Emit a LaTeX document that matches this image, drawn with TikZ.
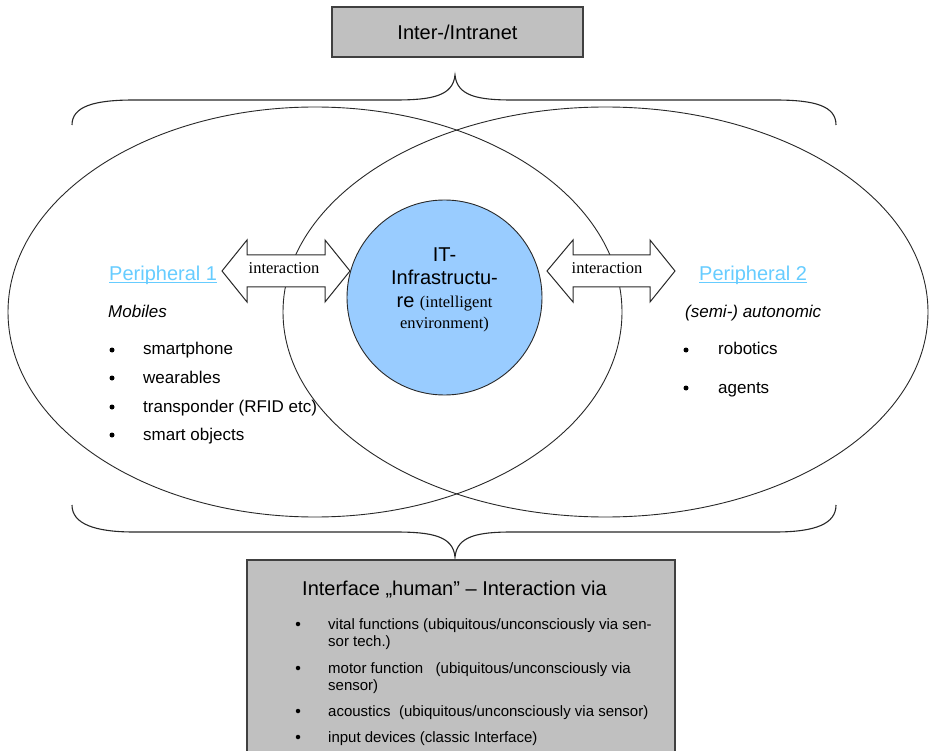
\documentclass[tikz,border=0pt]{standalone}
\usepackage{fontspec}
\setmainfont{Liberation Sans}
\newfontfamily\serifface{Liberation Serif}
\definecolor{boxgray}{RGB}{192,192,192}
\definecolor{boxline}{RGB}{64,64,64}
\definecolor{circblue}{RGB}{153,204,255}
\definecolor{periblue}{RGB}{102,204,255}
\definecolor{linegray}{RGB}{40,40,40}
\tikzset{
  txt/.style={inner sep=0pt, anchor=base west},
  ctxt/.style={inner sep=0pt, anchor=base},
  graybox/.style={draw=boxline, line width=1.3pt, fill=boxgray},
  ovalline/.style={draw=linegray, line width=0.9pt},
  braceline/.style={draw=linegray, line width=1.1pt},
  blockarrow/.style={draw=linegray, line width=1pt, fill=white},
  peri/.style={txt, text=periblue, font=\fontsize{20}{24}\selectfont},
  listfont/.style={txt, font=\fontsize{17}{20}\selectfont},
  boxfont/.style={txt, font=\fontsize{15}{18}\selectfont},
  dot/.style={circle, fill=black, inner sep=0pt, minimum size=5pt},
  smalldot/.style={circle, fill=black, inner sep=0pt, minimum size=4.5pt},
}
\begin{document}
\begin{tikzpicture}[x=1pt,y=-1pt]
\useasboundingbox (0,0) rectangle (929,751);
\clip (0,0) rectangle (929,751);

% ellipses
\draw[ovalline] (315,312) ellipse [x radius=307, y radius=205];
\draw[ovalline] (605.5,312) ellipse [x radius=322.5, y radius=205];

% central circle
\node[circle, draw=linegray, line width=0.9pt, fill=circblue, minimum size=195pt, inner sep=0pt] (it) at (444.5,297.5) {};
\node[ctxt, font=\fontsize{20}{24}\selectfont] (it1) at (444.5,262) {IT-};
\node[ctxt, font=\fontsize{20}{24}\selectfont] (it2) at (444.5,285) {Infrastructu-};
\node[ctxt] (it3) at (444.5,308) {\fontsize{20}{24}\selectfont re {\serifface\fontsize{16.5}{19}\selectfont (intelligent}};
\node[ctxt, font=\serifface\fontsize{16.5}{19}\selectfont] (it4) at (444.5,329) {environment)};

% block arrows
\draw[blockarrow] (222,271) -- (247,240) -- (247,255) -- (325,255) -- (325,240) -- (350,271)
  -- (325,302) -- (325,287) -- (247,287) -- (247,302) -- cycle;
\node[inner sep=0pt, font=\serifface\fontsize{16.5}{19}\selectfont] (ia1) at (284,268) {interaction};
\draw[blockarrow] (547,271) -- (573,240) -- (573,255) -- (650,255) -- (650,240) -- (675,271)
  -- (650,302) -- (650,287) -- (573,287) -- (573,302) -- cycle;
\node[inner sep=0pt, font=\serifface\fontsize{16.5}{19}\selectfont] (ia2) at (607,268) {interaction};

% peripheral 1
\node[peri] (p1) at (109,281) {Peripheral 1};
\draw[periblue, line width=1pt] ([yshift=-2pt]p1.base west) -- ([yshift=-2pt]p1.base east);
\node[listfont, font=\itshape\fontsize{17}{20}\selectfont] (mob) at (108,317) {Mobiles};
\node[dot] (b1) at (112,350) {};
\node[listfont] (l1) at (143,355) {smartphone};
\node[dot] (b2) at (112,378) {};
\node[listfont] (l2) at (143,383) {wearables};
\node[dot] (b3) at (112,407) {};
\node[listfont] (l3) at (143,412) {transponder (RFID etc)};
\node[dot] (b4) at (112,435) {};
\node[listfont] (l4) at (143,440) {smart objects};

% peripheral 2
\node[peri] (p2) at (699,281) {Peripheral 2};
\draw[periblue, line width=1pt] ([yshift=-2pt]p2.base west) -- ([yshift=-2pt]p2.base east);
\node[listfont, font=\itshape\fontsize{17}{20}\selectfont] (semi) at (685,317) {(semi-) autonomic};
\node[dot] (b5) at (686,350) {};
\node[listfont] (r1) at (718,355) {robotics};
\node[dot] (b6) at (686,388) {};
\node[listfont] (r2) at (718,393) {agents};

% braces
\draw[braceline] (72,125) .. controls (72,106) and (95,100) .. (134,100) -- (395,100)
  .. controls (432,100) and (453,96) .. (455,75)
  .. controls (457,96) and (478,100) .. (512,100) -- (775,100)
  .. controls (815,100) and (836,106) .. (836,125);
\draw[braceline] (72,505) .. controls (72,524) and (95,532) .. (134,532) -- (395,532)
  .. controls (432,532) and (453,536) .. (455,557)
  .. controls (457,536) and (478,532) .. (512,532) -- (775,532)
  .. controls (815,532) and (836,524) .. (836,505);

% top box
\node[graybox, minimum width=251pt, minimum height=50pt, inner sep=0pt, font=\fontsize{20}{24}\selectfont] (net) at (457.5,32) {Inter-/Intranet};

% bottom box
\draw[graybox] (247,560) rectangle (675,770);
\node[txt, font=\fontsize{20}{24}\selectfont] (ift) at (302,595) {Interface „human\symbol{34} – Interaction via};
\node[smalldot] (c1) at (298,624) {};
\node[boxfont] (d1) at (328,629) {vital functions (ubiquitous/unconsciously via sen-};
\node[boxfont] (d1b) at (328,646) {sor tech.)};
\node[smalldot] (c2) at (298,668) {};
\node[boxfont] (d2) at (328,673) {motor function\ \ \ (ubiquitous/unconsciously via};
\node[boxfont] (d2b) at (328,690) {sensor)};
\node[smalldot] (c3) at (298,711) {};
\node[boxfont] (d3) at (328,716) {acoustics\ \ (ubiquitous/unconsciously via sensor)};
\node[smalldot] (c4) at (298,737) {};
\node[boxfont] (d4) at (328,742) {input devices (classic Interface)};
\end{tikzpicture}
\end{document}
